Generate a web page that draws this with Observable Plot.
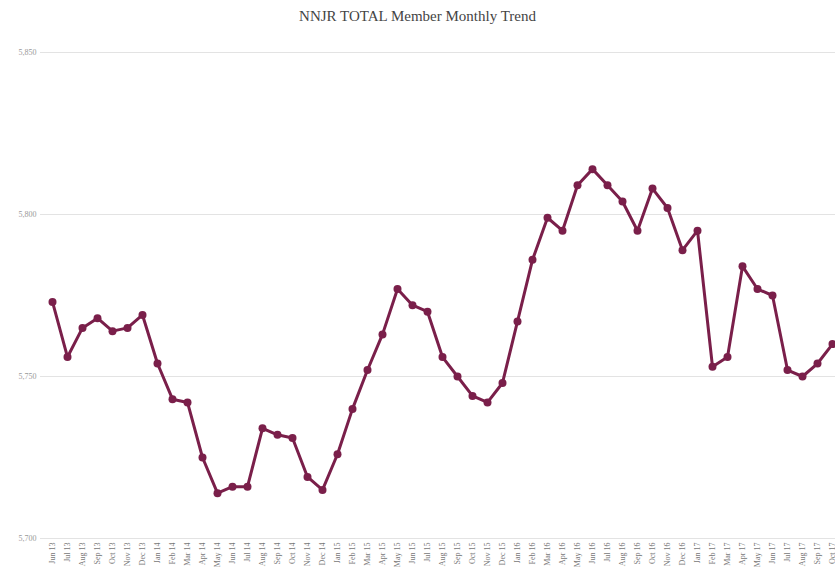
<!DOCTYPE html>
<html>
<head>
<meta charset="utf-8">
<script src="https://cdn.jsdelivr.net/npm/d3@7"></script>
<script src="https://cdn.jsdelivr.net/npm/@observablehq/plot@0.6"></script>
<style>
  html, body { margin: 0; padding: 0; background: #fff; }
  #title { height: 30px; line-height: 32px; text-align: center; font-family: "Liberation Serif", serif; font-size: 15px; color: #444; }
</style>
</head>
<body>
<div id="title">NNJR TOTAL Member Monthly Trend</div>
<div id="chart"></div>
<script>
const months = [
  "Jun 13","Jul 13","Aug 13","Sep 13","Oct 13","Nov 13","Dec 13",
  "Jan 14","Feb 14","Mar 14","Apr 14","May 14","Jun 14","Jul 14","Aug 14","Sep 14","Oct 14","Nov 14","Dec 14",
  "Jan 15","Feb 15","Mar 15","Apr 15","May 15","Jun 15","Jul 15","Aug 15","Sep 15","Oct 15","Nov 15","Dec 15",
  "Jan 16","Feb 16","Mar 16","Apr 16","May 16","Jun 16","Jul 16","Aug 16","Sep 16","Oct 16","Nov 16","Dec 16",
  "Jan 17","Feb 17","Mar 17","Apr 17","May 17","Jun 17","Jul 17","Aug 17","Sep 17","Oct 17"
];
const members = [
  5773,5756,5765,5768,5764,5765,5769,
  5754,5743,5742,5725,5714,5716,5716,5734,5732,5731,5719,5715,
  5726,5740,5752,5763,5777,5772,5770,5756,5750,5744,5742,5748,
  5767,5786,5799,5795,5809,5814,5809,5804,5795,5808,5802,5789,
  5795,5753,5756,5784,5777,5775,5752,5750,5754,5760
];
const yTicks = [5700, 5750, 5800, 5850];

const data = months.map((m, i) => ({month: m, value: members[i]}));
const color = "#7a1f4a";

const chart = Plot.plot({
  width: 835,
  height: 547,
  marginTop: 22,
  marginBottom: 39,
  marginLeft: 48,
  marginRight: 0,
  style: {fontFamily: "'Liberation Serif', serif", background: "#fff", overflow: "visible"},
  x: {type: "point", domain: months, padding: 0, label: null},
  y: {domain: [5700, 5850], label: null},
  marks: [
    Plot.ruleY(yTicks, {stroke: "#e3e3e3", strokeWidth: 1, insetLeft: -8}),
    Plot.axisY(yTicks, {tickSize: 0, tickPadding: 12, tickFormat: d3.format(","), fontSize: 8, fill: "#999", label: null}),
    Plot.axisX({tickSize: 0, tickPadding: 4, tickRotate: -90, fontSize: 8, fill: "#777", label: null}),
    Plot.line(data, {x: "month", y: "value", stroke: color, strokeWidth: 3, curve: "linear"}),
    Plot.dot(data, {x: "month", y: "value", fill: color, r: 4})
  ]
});
document.getElementById("chart").appendChild(chart);
</script>
</body>
</html>
